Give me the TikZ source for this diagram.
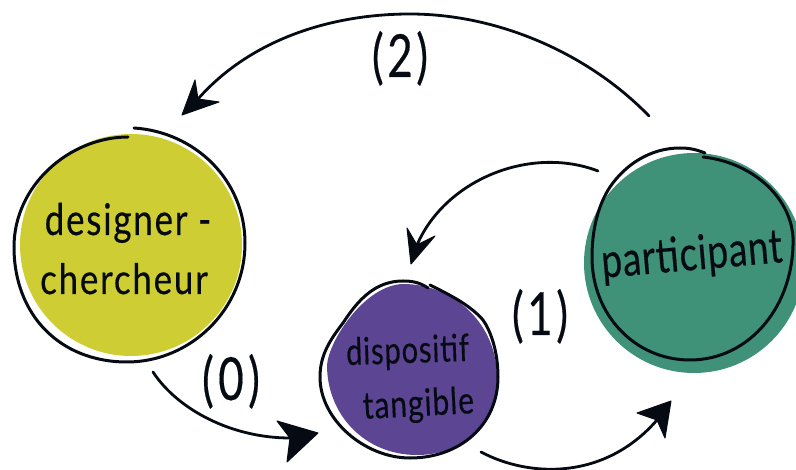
\documentclass[tikz,border=0pt]{standalone}
\usepackage{graphicx}
\usepackage{fontspec}
\setmainfont{Lato}
\definecolor{ink}{HTML}{060A12}
\definecolor{limefill}{HTML}{CFCD34}
\definecolor{violetfill}{HTML}{5C4592}
\definecolor{tealfill}{HTML}{3F9178}
\newcommand{\tall}[2]{\scalebox{1}[#1]{#2}}
\tikzset{
  outline/.style={draw=ink,line width=3pt,line cap=round,fill=none},
  conn/.style={draw=ink,line width=2.8pt,line cap=round},
  head/.style={fill=ink,draw=ink,line width=1pt,line join=round},
  hand/.style={text=ink,inner sep=0pt,anchor=base},
}
\newcommand{\handfont}[2]{\fontsize{#1}{#1}\selectfont\addfontfeature{LetterSpace=#2,FakeBold=0.4}}
\begin{document}
\begin{tikzpicture}[x=1pt,y=-1pt]
\useasboundingbox (0,0) rectangle (796,470);
% fills
\fill[limefill] (131,245) circle (111);
\fill[violetfill] (403,284) .. controls (455,284) and (497,325) .. (497,377)
  .. controls (497,425) and (462,455) .. (417,455)
  .. controls (365,455) and (327,415) .. (327,365)
  .. controls (329,340) and (365,285) .. (403,284) -- cycle;
\fill[tealfill] (694,263) circle (110);
% outlines
\draw[outline] (128,137) .. controls (70,137) and (14,185) .. (14,247)
  .. controls (14,315) and (60,362) .. (127,362)
  .. controls (190,362) and (245,310) .. (245,243)
  .. controls (245,180) and (195,132) .. (134,128);
\draw[outline] (428,288) .. controls (418,281) and (408,281) .. (403,281)
  .. controls (375,281) and (358,300) .. (343,323)
  .. controls (330,340) and (320,355) .. (320,377)
  .. controls (320,420) and (365,458) .. (410,458)
  .. controls (460,458) and (498,425) .. (498,377)
  .. controls (498,350) and (490,330) .. (483,320)
  .. controls (470,305) and (450,295) .. (430,285);
\draw[outline] (705,153) .. controls (695,149) and (688,148) .. (680,148)
  .. controls (650,148) and (625,165) .. (610,187)
  .. controls (598,205) and (592,230) .. (592,257)
  .. controls (592,315) and (635,360) .. (690,360)
  .. controls (750,360) and (795,305) .. (793,237)
  .. controls (790,195) and (750,162) .. (703,157);
% connectors
\coordinate (a0) at (153,372);
\coordinate (b0) at (290,438);
\coordinate (a1) at (481,452);
\coordinate (b1) at (657,420);
\coordinate (a2) at (649,116);
\coordinate (m2) at (410,14);
\coordinate (b2) at (198,99);
\coordinate (a3) at (598,171);
\coordinate (b3) at (417,245);
\draw[conn] (a0) .. controls (178,410) and (232,438) .. (b0);
\draw[conn] (a1) .. controls (530,478) and (605,480) .. (b1);
\draw[conn] (a2) .. controls (590,55) and (500,14) .. (m2) .. controls (330,14) and (250,40) .. (b2);
\draw[conn] (a3) .. controls (530,145) and (445,180) .. (b3);
% heads
\draw[head] (318,433) -- (277,421) -- (290,438) -- (287,462) -- cycle;
\draw[head] (671,401) -- (637,413) -- (657,420) -- (665,438) -- cycle;
\draw[head] (182,115) -- (195,80) -- (198,99) -- (219,102) -- cycle;
\draw[head] (411,264) -- (407,228) -- (417,245) -- (435,236) -- cycle;
% labels
\node[hand] (t1) at (128,235) {\handfont{35}{5}\tall{1.25}{designer -}};
\node[hand] (t2) at (124,294) {\handfont{35}{5}\tall{1.2}{chercheur}};
\node[hand,rotate=2] (t3) at (408,363) {\handfont{29}{3}\tall{1.3}{dispositif}};
\node[hand,rotate=3] (t4) at (419,416) {\handfont{30}{3}\tall{1.25}{tangible}};
\node[hand,rotate=5] (t5) at (693,270) {\handfont{37}{2}\tall{1.3}{participant}};
\node[hand] (n0) at (231,400) {\handfont{44}{10}\tall{1.35}{(0)}};
\node[hand] (n1) at (540,335) {\handfont{44}{8}\tall{1.35}{(1)}};
\node[hand] (n2) at (400,77) {\handfont{44}{8}\tall{1.35}{(2)}};
\end{tikzpicture}
\end{document}
